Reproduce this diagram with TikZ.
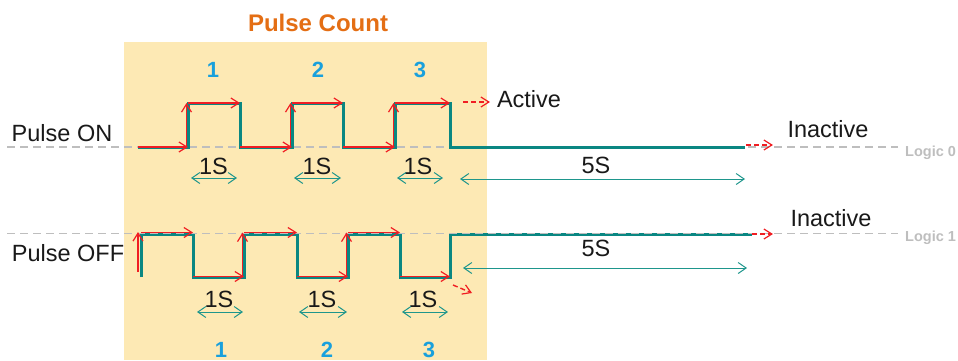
\documentclass[tikz,border=0pt]{standalone}
\usepackage{fontspec}
\setmainfont{Liberation Sans}
\usetikzlibrary{arrows.meta}
\definecolor{boxbg}{RGB}{253,233,180}
\definecolor{wave}{RGB}{10,135,130}
\definecolor{spancol}{RGB}{30,150,140}
\definecolor{redarr}{RGB}{240,30,35}
\definecolor{numblue}{RGB}{25,160,220}
\definecolor{titleor}{RGB}{228,110,20}
\definecolor{logicgray}{RGB}{190,190,190}
\definecolor{txt}{RGB}{25,25,25}
\tikzset{
 wavepath/.style={draw=wave, line width=3pt, line join=miter},
 redtrace/.style={draw=redarr, line width=1.4pt, -{Straight Barb[length=8pt,width=10pt,line width=1.2pt]}},
 reddash/.style={redtrace, dash pattern=on 5pt off 3pt},
 span/.style={draw=spancol, line width=1pt, {Straight Barb[length=8pt,width=11pt]}-{Straight Barb[length=8pt,width=11pt]}},
 refline/.style={draw=logicgray, line width=1.5pt, dash pattern=on 8pt off 5pt},
 lbl/.style={font=\fontsize{23.5}{25}\selectfont, text=txt, anchor=base, inner sep=0pt},
 num/.style={font=\fontsize{22}{24}\selectfont\bfseries, text=numblue, anchor=base, inner sep=0pt},
 ttl/.style={font=\fontsize{24}{26}\selectfont\bfseries, text=titleor, anchor=base, inner sep=0pt},
 logic/.style={font=\fontsize{14.5}{16}\selectfont\bfseries, text=logicgray, anchor=base west, inner sep=0pt},
}
\begin{document}
\begin{tikzpicture}[x=1pt,y=-1pt]
\useasboundingbox (0,0) rectangle (958,360);
% background box
\fill[boxbg] (124,42) rectangle (487,360);
\node[ttl] (title) at (318,31) {Pulse Count};

% ---------- top (Pulse ON) ----------
\coordinate (rl0a) at (7,147);
\coordinate (rl0b) at (898,147);
\draw[refline] (rl0a) -- (rl0b);

\coordinate (t0) at (138,147);
\coordinate (t1r) at (188,147); \coordinate (t1h) at (188,103);
\coordinate (t1f) at (240,103); \coordinate (t1l) at (240,147);
\coordinate (t2r) at (292,147); \coordinate (t2h) at (292,103);
\coordinate (t2f) at (343,103); \coordinate (t2l) at (343,147);
\coordinate (t3r) at (395,147); \coordinate (t3h) at (395,103);
\coordinate (t3f) at (450,103); \coordinate (t3l) at (450,147);
\coordinate (tend) at (745,147);
\draw[wavepath] (t0) -- (t1r) -- (t1h) -- (t1f) -- (t1l) -- (t2r) -- (t2h) -- (t2f) -- (t2l)
  -- (t3r) -- (t3h) -- (t3f) -- (t3l) -- (tend);

\draw[redtrace] (t0) -- (t1r);
\draw[redtrace] ([xshift=-1.5pt]t1r) -- ([xshift=-1.5pt]t1h);
\draw[redtrace] (t1h) -- (t1f);
\draw[redtrace] (t1l) -- (t2r);
\draw[redtrace] ([xshift=-1.5pt]t2r) -- ([xshift=-1.5pt]t2h);
\draw[redtrace] (t2h) -- (t2f);
\draw[redtrace] (t2l) -- (t3r);
\draw[redtrace] ([xshift=-1.5pt]t3r) -- ([xshift=-1.5pt]t3h);
\draw[redtrace] (t3h) -- (t3f);

\coordinate (act0) at (463,102); \coordinate (act1) at (490,102);
\draw[reddash] (act0) -- (act1);
\coordinate (in0a) at (746,145); \coordinate (in0b) at (773,145);
\draw[reddash] (in0a) -- (in0b);

\node[lbl] (pon) at (62,141) {Pulse ON};
\node[lbl] (active) at (529,107) {Active};
\node[lbl] (inact0) at (828,137) {Inactive};
\node[logic] (logic0) at (905,156) {Logic 0};

\node[num] (n1t) at (213,77) {1};
\node[num] (n2t) at (318,77) {2};
\node[num] (n3t) at (420,77) {3};

\node[lbl] (s1t) at (213.5,174) {1S};
\node[lbl] (s2t) at (317,174) {1S};
\node[lbl] (s3t) at (418,174) {1S};
\coordinate (a1ta) at (191,178); \coordinate (a1tb) at (237,178);
\coordinate (a2ta) at (294,178); \coordinate (a2tb) at (341,178);
\coordinate (a3ta) at (397,178); \coordinate (a3tb) at (443,178);
\draw[span] (a1ta) -- (a1tb);
\draw[span] (a2ta) -- (a2tb);
\draw[span] (a3ta) -- (a3tb);
\node[lbl] (s5t) at (596,173) {5S};
\coordinate (a5ta) at (460,179); \coordinate (a5tb) at (745,179);
\draw[span] (a5ta) -- (a5tb);

% ---------- bottom (Pulse OFF) ----------
\coordinate (b0) at (141,277); \coordinate (b0h) at (141,234);
\coordinate (b1f) at (193,234); \coordinate (b1l) at (193,277);
\coordinate (b1r) at (244,277); \coordinate (b1h) at (244,234);
\coordinate (b2f) at (297,234); \coordinate (b2l) at (297,277);
\coordinate (b2r) at (348,277); \coordinate (b2h) at (348,234);
\coordinate (b3f) at (400,234); \coordinate (b3l) at (400,277);
\coordinate (b3r) at (450,277); \coordinate (b3h) at (450,234);
\coordinate (bend) at (752,234);
\draw[wavepath] (b0) -- (b0h) -- (b1f) -- (b1l) -- (b1r) -- (b1h) -- (b2f) -- (b2l) -- (b2r)
  -- (b2h) -- (b3f) -- (b3l) -- (b3r) -- (b3h) -- (bend);

\coordinate (rl1a) at (7,233.5);
\coordinate (rl1b) at (898,233.5);
\draw[refline] (rl1a) -- (rl1b);

\coordinate (bs0) at (138,272); \coordinate (bs1) at (138,232);
\draw[redtrace] (bs0) -- (bs1);
\draw[redtrace] ([yshift=1.5pt]b0h) -- ([yshift=1.5pt]b1f);
\draw[redtrace] ([yshift=0.5pt]b1l) -- ([yshift=0.5pt]b1r);
\draw[redtrace] ([xshift=-1.5pt]b1r) -- ([xshift=-1.5pt,yshift=1.5pt]b1h);
\draw[redtrace] ([yshift=1.5pt]b1h) -- ([yshift=1.5pt]b2f);
\draw[redtrace] ([yshift=0.5pt]b2l) -- ([yshift=0.5pt]b2r);
\draw[redtrace] ([xshift=-1.5pt]b2r) -- ([xshift=-1.5pt,yshift=1.5pt]b2h);
\draw[redtrace] ([yshift=1.5pt]b2h) -- ([yshift=1.5pt]b3f);
\draw[redtrace] ([yshift=0.5pt]b3l) -- ([yshift=0.5pt]b3r);

\coordinate (dg0) at (453,285); \coordinate (dg1) at (472,293);
\draw[reddash] (dg0) -- (dg1);
\coordinate (in1a) at (752,234); \coordinate (in1b) at (773,234);
\draw[reddash] (in1a) -- (in1b);

\node[lbl] (poff) at (68,261) {Pulse OFF};
\node[lbl] (inact1) at (831,226) {Inactive};
\node[logic] (logic1) at (905,241) {Logic 1};

\node[lbl] (s1b) at (219,307) {1S};
\node[lbl] (s2b) at (322,307) {1S};
\node[lbl] (s3b) at (423,307) {1S};
\coordinate (a1ba) at (197,312); \coordinate (a1bb) at (243,312);
\coordinate (a2ba) at (299,312); \coordinate (a2bb) at (347,312);
\coordinate (a3ba) at (402,312); \coordinate (a3bb) at (448,312);
\draw[span] (a1ba) -- (a1bb);
\draw[span] (a2ba) -- (a2bb);
\draw[span] (a3ba) -- (a3bb);
\node[lbl] (s5b) at (596,256) {5S};
\coordinate (a5ba) at (463,268); \coordinate (a5bb) at (747,268);
\draw[span] (a5ba) -- (a5bb);

\node[num] (n1b) at (221,357) {1};
\node[num] (n2b) at (327,357) {2};
\node[num] (n3b) at (429,357) {3};
\end{tikzpicture}
\end{document}
